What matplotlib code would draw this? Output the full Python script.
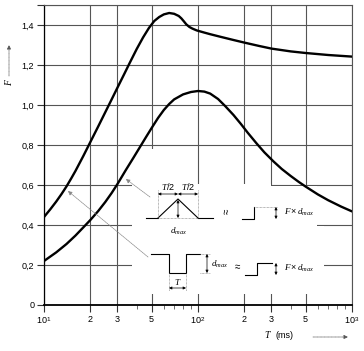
import numpy as np
import matplotlib
matplotlib.use('Agg')
import matplotlib.pyplot as plt
from matplotlib.patches import Rectangle
from matplotlib.ticker import FixedLocator, FixedFormatter, NullFormatter

plt.rcParams['font.family'] = ['Liberation Sans', 'DejaVu Sans']
plt.rcParams['mathtext.fontset'] = 'custom'
plt.rcParams['mathtext.rm'] = 'Liberation Sans'
plt.rcParams['mathtext.it'] = 'Liberation Serif:italic'

# upper curve - rectangular pulse
T_rect = [10, 11, 12, 13, 14, 15, 16, 18, 20, 22.5, 25, 27.5, 30, 33, 36, 40, 44, 48, 52, 56,
          60, 65, 70, 75, 78, 81, 84, 88, 92, 98, 110, 120, 140, 170, 200, 250, 300, 400,
          500, 700, 1000]
F_rect = [0.44, 0.479, 0.517, 0.555, 0.593, 0.632, 0.670, 0.745, 0.815, 0.893, 0.964, 1.028,
          1.087, 1.151, 1.210, 1.28, 1.338, 1.385, 1.42, 1.44, 1.453, 1.46, 1.456, 1.445,
          1.433, 1.418, 1.403, 1.39, 1.382, 1.373, 1.362, 1.354, 1.341, 1.325, 1.312, 1.295,
          1.282, 1.268, 1.26, 1.25, 1.242]

# lower curve - triangular pulse
T_tri = [10, 12, 14, 16, 18, 20, 22.5, 25, 27.5, 30, 34, 38, 42, 46, 50, 55, 60, 65, 70,
         80, 90, 100, 110, 120, 135, 150, 170, 190, 210, 240, 270, 310, 350, 400, 450, 500,
         600, 700, 850, 1000]
F_tri = [0.22, 0.263, 0.305, 0.347, 0.388, 0.425, 0.47, 0.515, 0.56, 0.605, 0.675, 0.735,
         0.79, 0.84, 0.885, 0.935, 0.975, 1.005, 1.028, 1.053, 1.065, 1.07, 1.067, 1.057,
         1.03, 0.995, 0.95, 0.905, 0.862, 0.808, 0.763, 0.717, 0.680, 0.645, 0.616, 0.592,
         0.553, 0.524, 0.492, 0.468]

x_ticks = [10, 20, 30, 50, 100, 200, 300, 500, 1000]
x_labels = ['$10^1$', '2', '3', '5', '$10^2$', '2', '3', '5', '$10^3$']
x_minor = [40, 60, 70, 80, 90, 400, 600, 700, 800, 900]
y_ticks = [0, 0.2, 0.4, 0.6, 0.8, 1.0, 1.2, 1.4, 1.5]
y_labels = ['0', '0,2', '0,4', '0,6', '0,8', '1,0', '1,2', '1,4', '']

W, H = 364, 351
fig = plt.figure(figsize=(W / 100, H / 100), dpi=100)
ax = fig.add_axes([44 / W, 1 - 305 / H, 308 / W, 300 / H])
ax.set_xscale('log')
ax.set_xlim(10, 1000)
ax.set_ylim(0, 1.5)

ax.xaxis.set_major_locator(FixedLocator(x_ticks))
ax.xaxis.set_major_formatter(FixedFormatter(x_labels))
ax.xaxis.set_minor_locator(FixedLocator(x_minor))
ax.xaxis.set_minor_formatter(NullFormatter())
ax.yaxis.set_major_locator(FixedLocator(y_ticks))
ax.yaxis.set_major_formatter(FixedFormatter(y_labels))
ax.tick_params(axis='both', which='major', labelsize=6.5, length=5, width=0.8, color='#333', pad=2)
ax.tick_params(axis='x', which='minor', length=3, width=0.6, color='#555')

ax.set_axisbelow(True)
ax.grid(True, which='major', color='#555', lw=0.8)
for s in ['top', 'right']:
    ax.spines[s].set_color('#555')
    ax.spines[s].set_linewidth(0.8)
ax.spines['left'].set_linewidth(0.9)
ax.spines['bottom'].set_linewidth(1.3)

# white area behind the sketches
for x0, x1, y0, y1 in [(37, 300, 0.055, 0.605), (45, 56, 0.6, 0.78),
                       (300, 590, 0.055, 0.595), (590, 660, 0.055, 0.395)]:
    ax.add_patch(Rectangle((x0, y0), x1 - x0, y1 - y0, facecolor='white',
                           edgecolor='none', zorder=1))

ax.plot(T_rect, F_rect, color='black', lw=1.7, zorder=3, solid_capstyle='round',
        solid_joinstyle='round')
ax.plot(T_tri, F_tri, color='black', lw=1.7, zorder=3, solid_capstyle='round',
        solid_joinstyle='round')

# overlay in pixel coordinates for the sketches and labels
ov = fig.add_axes([0, 0, 1, 1], zorder=5)
ov.set_xlim(0, W)
ov.set_ylim(H, 0)
ov.axis('off')
ov.patch.set_alpha(0)

lk = dict(color='black', lw=0.8)
dk = dict(color='#777', lw=0.5, ls=(0, (1, 1)))
dimprops = dict(arrowstyle='<|-|>', color='black', lw=0.5, mutation_scale=4,
                shrinkA=0, shrinkB=0)

def dim(x0, y0, x1, y1):
    ov.annotate('', xy=(x0, y0), xytext=(x1, y1), arrowprops=dimprops)

# triangle pulse
ov.plot([146, 158], [218, 218], **lk)
ov.plot([198, 213], [218, 218], **lk)
ov.plot([158, 198], [218, 218], **dk)
ov.plot([158, 178, 198], [218, 199, 218], **lk)
ov.plot([158, 158], [190, 218], **dk)
ov.plot([198, 198], [190, 218], **dk)
dim(158, 194, 178, 194)
dim(198, 194, 178, 194)
dim(178, 200, 178, 218)
ov.text(168, 187, '$T/2$', fontsize=6.5, ha='center', va='center')
ov.text(188, 187, '$T/2$', fontsize=6.5, ha='center', va='center')
ov.text(178, 231, '$d_{max}$', fontsize=6.5, ha='center', va='center')
ov.text(227, 211, '≈', fontsize=7, ha='center', va='center', rotation=90)

# step 1
ov.plot([242, 254, 254], [219, 219, 207], **lk)
ov.plot([254, 277], [207, 207], **dk)
dim(276, 207, 276, 219)
ov.text(284, 212, r'$F \times d_{max}$', fontsize=6.5, ha='left', va='center')

# rectangular pulse
ov.plot([151, 169, 169, 186, 186, 200], [254, 254, 273, 273, 254, 254], **lk)
ov.plot([200, 210], [273, 273], **dk)
ov.plot([200, 210], [254, 254], **dk)
dim(207, 254, 207, 273)
ov.text(211, 264, '$d_{max}$', fontsize=6.5, ha='left', va='center')
ov.text(237, 267, '≈', fontsize=7, ha='center', va='center')
ov.plot([169, 169], [273, 291], **dk)
ov.plot([186, 186], [273, 291], **dk)
dim(169, 288, 186, 288)
ov.text(178, 282, '$T$', fontsize=6.5, ha='center', va='center')

# step 2
ov.plot([245, 257, 257, 272], [275, 275, 263, 263], **lk)
dim(276, 263, 276, 275)
ov.text(284, 268, r'$F \times d_{max}$', fontsize=6.5, ha='left', va='center')

# leader lines to the curves
leader = dict(arrowstyle='-|>', color='#888', lw=0.5, ls=(0, (2, 1)),
              mutation_scale=6, shrinkA=0, shrinkB=0)
ov.annotate('', xy=(14.3, 0.57), xycoords=ax.transData, xytext=(148, 257),
            textcoords=ov.transData, arrowprops=leader)
ov.annotate('', xy=(34, 0.63), xycoords=ax.transData, xytext=(150, 197),
            textcoords=ov.transData, arrowprops=leader)

# axis labels with arrows
axarrow = dict(arrowstyle='-|>', color='#555', lw=0.5, ls=(0, (1, 1)),
               mutation_scale=6, shrinkA=0, shrinkB=0)
ov.text(9, 82, '$F$', fontsize=7, ha='center', va='center', rotation=90)
ov.annotate('', xy=(9, 45), xytext=(9, 76), arrowprops=axarrow)
ov.text(268, 335, '$T$', fontsize=7, ha='center', va='center')
ov.text(276, 335, '(ms)', fontsize=6.5, ha='left', va='center')
ov.annotate('', xy=(348, 337), xytext=(313, 337), arrowprops=axarrow)

fig.savefig('out.png', dpi=100)
